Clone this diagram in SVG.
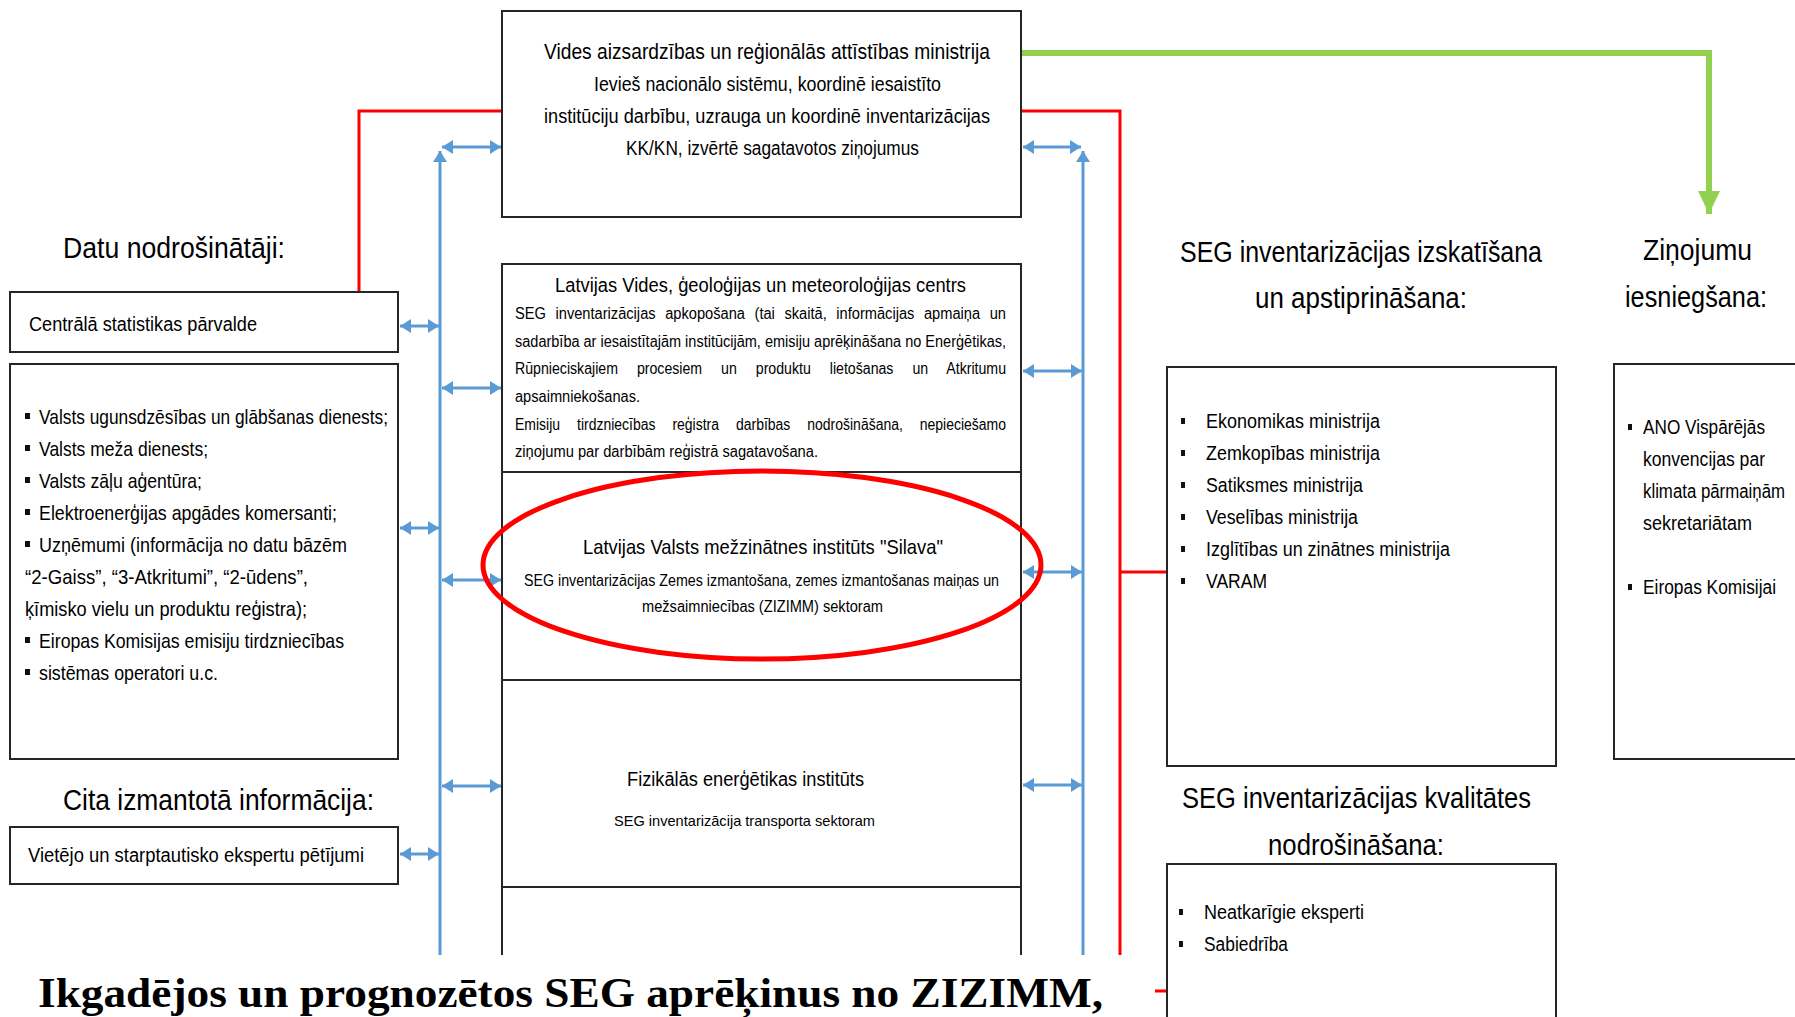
<svg xmlns="http://www.w3.org/2000/svg" width="1795" height="1017" viewBox="0 0 1795 1017">
<style>
.box{fill:#fff;stroke:#262626;stroke-width:2}
.t{font-family:"Liberation Sans",Arial,sans-serif;fill:#000}
.h{font-family:"Liberation Sans",Arial,sans-serif;fill:#000;font-size:30px}
.red{fill:none;stroke:#ff0000;stroke-width:3}
.blue{fill:none;stroke:#5b9bd5;stroke-width:3}
.green{fill:none;stroke:#92d050;stroke-width:6}
.bul{fill:#111}
</style>
<defs>
<marker id="ab" markerUnits="userSpaceOnUse" markerWidth="12" markerHeight="14" refX="11" refY="7" orient="auto-start-reverse">
<path d="M0,0 L11,7 L0,14 z" fill="#5b9bd5"/>
</marker>
<marker id="ag" markerUnits="userSpaceOnUse" markerWidth="24" markerHeight="22" refX="23" refY="11" orient="auto">
<path d="M0,0 L23,11 L0,22 z" fill="#92d050"/>
</marker>
</defs>
<rect width="1795" height="1017" fill="#fff"/>

<g id="connectors">
<path class="red" d="M359,292 V111 H502"/>
<path class="red" d="M1021,111 H1120 V991 H1168"/>
<path class="red" d="M1120,572 H1168"/>
<path class="green" d="M1021,53 H1709 V214" marker-end="url(#ag)"/>
<path class="blue" d="M440,1000 V151" marker-end="url(#ab)"/>
<path class="blue" d="M1083,1000 V151" marker-end="url(#ab)"/>
<line class="blue" x1="442" y1="147" x2="501" y2="147" marker-start="url(#ab)" marker-end="url(#ab)"/>
<line class="blue" x1="1023" y1="147" x2="1081" y2="147" marker-start="url(#ab)" marker-end="url(#ab)"/>
<line class="blue" x1="400" y1="326" x2="439" y2="326" marker-start="url(#ab)" marker-end="url(#ab)"/>
<line class="blue" x1="442" y1="388" x2="501" y2="388" marker-start="url(#ab)" marker-end="url(#ab)"/>
<line class="blue" x1="400" y1="528" x2="439" y2="528" marker-start="url(#ab)" marker-end="url(#ab)"/>
<line class="blue" x1="442" y1="580" x2="501" y2="580" marker-start="url(#ab)" marker-end="url(#ab)"/>
<line class="blue" x1="442" y1="786" x2="501" y2="786" marker-start="url(#ab)" marker-end="url(#ab)"/>
<line class="blue" x1="400" y1="854" x2="439" y2="854" marker-start="url(#ab)" marker-end="url(#ab)"/>
<line class="blue" x1="1023" y1="371" x2="1082" y2="371" marker-start="url(#ab)" marker-end="url(#ab)"/>
<line class="blue" x1="1023" y1="572" x2="1082" y2="572" marker-start="url(#ab)" marker-end="url(#ab)"/>
<line class="blue" x1="1023" y1="785" x2="1082" y2="785" marker-start="url(#ab)" marker-end="url(#ab)"/>
</g>

<g id="varam">
<rect class="box" x="502" y="11" width="519" height="206"/>
<text class="t" x="544" y="59" font-size="22" textLength="446" lengthAdjust="spacingAndGlyphs">Vides aizsardzības un reģionālās attīstības ministrija</text>
<text class="t" x="594" y="91" font-size="20" textLength="347" lengthAdjust="spacingAndGlyphs">Ievieš nacionālo sistēmu,  koordinē iesaistīto</text>
<text class="t" x="544" y="123" font-size="20" textLength="446" lengthAdjust="spacingAndGlyphs">institūciju darbību, uzrauga un koordinē inventarizācijas</text>
<text class="t" x="626" y="155" font-size="20" textLength="293" lengthAdjust="spacingAndGlyphs">KK/KN, izvērtē sagatavotos  ziņojumus</text>
</g>

<g id="lvgmc">
<rect class="box" x="502" y="264" width="519" height="208"/>
<text class="t" x="555" y="292" font-size="20" textLength="411" lengthAdjust="spacingAndGlyphs">Latvijas Vides, ģeoloģijas  un meteoroloģijas centrs</text>
<text class="t" x="515" y="319" font-size="16" word-spacing="6" textLength="491" lengthAdjust="spacingAndGlyphs">SEG inventarizācijas apkopošana (tai skaitā, informācijas apmaiņa un</text>
<text class="t" x="515" y="347" font-size="16" textLength="491" lengthAdjust="spacingAndGlyphs">sadarbība ar iesaistītajām institūcijām, emisiju aprēķināšana no Enerģētikas,</text>
<text class="t" x="515" y="374" font-size="16" word-spacing="17" textLength="491" lengthAdjust="spacingAndGlyphs">Rūpnieciskajiem procesiem un produktu lietošanas un Atkritumu</text>
<text class="t" x="515" y="402" font-size="16" textLength="125" lengthAdjust="spacingAndGlyphs">apsaimniekošanas.</text>
<text class="t" x="515" y="430" font-size="16" word-spacing="15" textLength="491" lengthAdjust="spacingAndGlyphs">Emisiju tirdzniecības reģistra darbības nodrošināšana, nepieciešamo</text>
<text class="t" x="515" y="457" font-size="16" textLength="303" lengthAdjust="spacingAndGlyphs">ziņojumu par darbībām reģistrā sagatavošana.</text>
</g>

<g id="silava">
<rect class="box" x="502" y="472" width="519" height="208"/>
<ellipse cx="762" cy="565" rx="279" ry="94" fill="none" stroke="#ff0000" stroke-width="5"/>
<text class="t" x="583" y="554" font-size="21" textLength="360" lengthAdjust="spacingAndGlyphs">Latvijas Valsts mežzinātnes institūts "Silava"</text>
<text class="t" x="524" y="586" font-size="16" textLength="475" lengthAdjust="spacingAndGlyphs">SEG inventarizācijas Zemes izmantošana, zemes izmantošanas maiņas un</text>
<text class="t" x="642" y="612" font-size="16" textLength="241" lengthAdjust="spacingAndGlyphs">mežsaimniecības (ZIZIMM) sektoram</text>
</g>

<g id="fei">
<rect class="box" x="502" y="680" width="519" height="207"/>
<text class="t" x="627" y="786" font-size="20" textLength="237" lengthAdjust="spacingAndGlyphs">Fizikālās  enerģētikas institūts</text>
<text class="t" x="614" y="826" font-size="15" textLength="261" lengthAdjust="spacingAndGlyphs">SEG inventarizācija transporta sektoram</text>
</g>

<g id="bottom-box">
<rect class="box" x="502" y="887" width="519" height="140"/>
</g>

<g id="datu-title">
<text class="h" x="63" y="258" textLength="222" lengthAdjust="spacingAndGlyphs">Datu nodrošinātāji:</text>
</g>

<g id="csp">
<rect class="box" x="10" y="292" width="388" height="60"/>
<text class="t" x="29" y="331" font-size="20" textLength="228" lengthAdjust="spacingAndGlyphs">Centrālā statistikas pārvalde</text>
</g>

<g id="datu-list">
<rect class="box" x="10" y="364" width="388" height="395"/>
<rect class="bul" x="25" y="413" width="5" height="6"/>
<rect class="bul" x="25" y="445" width="5" height="6"/>
<rect class="bul" x="25" y="477" width="5" height="6"/>
<rect class="bul" x="25" y="509" width="5" height="6"/>
<rect class="bul" x="25" y="541" width="5" height="6"/>
<rect class="bul" x="25" y="637" width="5" height="6"/>
<rect class="bul" x="25" y="669" width="5" height="6"/>
<text class="t" x="39" y="424" font-size="21" textLength="349" lengthAdjust="spacingAndGlyphs">Valsts ugunsdzēsības un glābšanas dienests;</text>
<text class="t" x="39" y="456" font-size="21" textLength="169" lengthAdjust="spacingAndGlyphs">Valsts meža dienests;</text>
<text class="t" x="39" y="488" font-size="21" textLength="163" lengthAdjust="spacingAndGlyphs">Valsts zāļu aģentūra;</text>
<text class="t" x="39" y="520" font-size="21" textLength="298" lengthAdjust="spacingAndGlyphs">Elektroenerģijas apgādes komersanti;</text>
<text class="t" x="39" y="552" font-size="21" textLength="308" lengthAdjust="spacingAndGlyphs">Uzņēmumi (informācija no datu bāzēm</text>
<text class="t" x="25" y="584" font-size="21" textLength="283" lengthAdjust="spacingAndGlyphs">“2-Gaiss”, “3-Atkritumi”, “2-ūdens”,</text>
<text class="t" x="25" y="616" font-size="21" textLength="282" lengthAdjust="spacingAndGlyphs">ķīmisko vielu un produktu reģistra);</text>
<text class="t" x="39" y="648" font-size="21" textLength="305" lengthAdjust="spacingAndGlyphs">Eiropas Komisijas emisiju tirdzniecības</text>
<text class="t" x="39" y="680" font-size="21" textLength="179" lengthAdjust="spacingAndGlyphs">sistēmas operatori u.c.</text>
</g>

<g id="cita-title">
<text class="h" x="63" y="810" textLength="311" lengthAdjust="spacingAndGlyphs">Cita izmantotā informācija:</text>
</g>

<g id="vietejo">
<rect class="box" x="10" y="827" width="388" height="57"/>
<text class="t" x="28" y="862" font-size="20" textLength="336" lengthAdjust="spacingAndGlyphs">Vietējo un starptautisko  ekspertu pētījumi</text>
</g>

<g id="izskatisana-title">
<text class="h" x="1180" y="262" textLength="362" lengthAdjust="spacingAndGlyphs">SEG inventarizācijas izskatīšana</text>
<text class="h" x="1255" y="308" textLength="212" lengthAdjust="spacingAndGlyphs">un apstiprināšana:</text>
</g>

<g id="izskatisana">
<rect class="box" x="1167" y="367" width="389" height="399"/>
<rect class="bul" x="1181" y="418" width="4" height="6"/>
<rect class="bul" x="1181" y="450" width="4" height="6"/>
<rect class="bul" x="1181" y="482" width="4" height="6"/>
<rect class="bul" x="1181" y="514" width="4" height="6"/>
<rect class="bul" x="1181" y="546" width="4" height="6"/>
<rect class="bul" x="1181" y="578" width="4" height="6"/>
<text class="t" x="1206" y="428" font-size="20" textLength="174" lengthAdjust="spacingAndGlyphs">Ekonomikas ministrija</text>
<text class="t" x="1206" y="460" font-size="20" textLength="174" lengthAdjust="spacingAndGlyphs">Zemkopības ministrija</text>
<text class="t" x="1206" y="492" font-size="20" textLength="157" lengthAdjust="spacingAndGlyphs">Satiksmes ministrija</text>
<text class="t" x="1206" y="524" font-size="20" textLength="152" lengthAdjust="spacingAndGlyphs">Veselības ministrija</text>
<text class="t" x="1206" y="556" font-size="20" textLength="244" lengthAdjust="spacingAndGlyphs">Izglītības un zinātnes ministrija</text>
<text class="t" x="1206" y="588" font-size="20" textLength="61" lengthAdjust="spacingAndGlyphs">VARAM</text>
</g>

<g id="zinojumu-title">
<text class="h" x="1643" y="260" textLength="109" lengthAdjust="spacingAndGlyphs">Ziņojumu</text>
<text class="h" x="1625" y="307" textLength="142" lengthAdjust="spacingAndGlyphs">iesniegšana:</text>
</g>

<g id="zinojumu">
<rect class="box" x="1614" y="364" width="200" height="395"/>
<rect class="bul" x="1628" y="424" width="4" height="6"/>
<rect class="bul" x="1628" y="584" width="4" height="6"/>
<text class="t" x="1643" y="434" font-size="20" textLength="122" lengthAdjust="spacingAndGlyphs">ANO Vispārējās</text>
<text class="t" x="1643" y="466" font-size="20" textLength="122" lengthAdjust="spacingAndGlyphs">konvencijas par</text>
<text class="t" x="1643" y="498" font-size="20" textLength="142" lengthAdjust="spacingAndGlyphs">klimata pārmaiņām</text>
<text class="t" x="1643" y="530" font-size="20" textLength="109" lengthAdjust="spacingAndGlyphs">sekretariātam</text>
<text class="t" x="1643" y="594" font-size="20" textLength="133" lengthAdjust="spacingAndGlyphs">Eiropas Komisijai</text>
</g>

<g id="kvalitate-title">
<text class="h" x="1182" y="808" textLength="349" lengthAdjust="spacingAndGlyphs">SEG inventarizācijas kvalitātes</text>
<text class="h" x="1268" y="855" textLength="176" lengthAdjust="spacingAndGlyphs">nodrošināšana:</text>
</g>

<g id="kvalitate">
<rect class="box" x="1167" y="864" width="389" height="170"/>
<rect class="bul" x="1179" y="909" width="4" height="6"/>
<rect class="bul" x="1179" y="941" width="4" height="6"/>
<text class="t" x="1204" y="919" font-size="20" textLength="160" lengthAdjust="spacingAndGlyphs">Neatkarīgie eksperti</text>
<text class="t" x="1204" y="951" font-size="20" textLength="84" lengthAdjust="spacingAndGlyphs">Sabiedrība</text>
</g>

<g id="caption">
<rect x="0" y="955" width="1155" height="62" fill="#fff"/>
<text x="38" y="1007" font-family="'Liberation Serif','Times New Roman',serif" font-weight="bold" font-size="43" fill="#000" textLength="1065" lengthAdjust="spacingAndGlyphs">Ikgadējos un prognozētos SEG aprēķinus no ZIZIMM,</text>
</g>
</svg>
